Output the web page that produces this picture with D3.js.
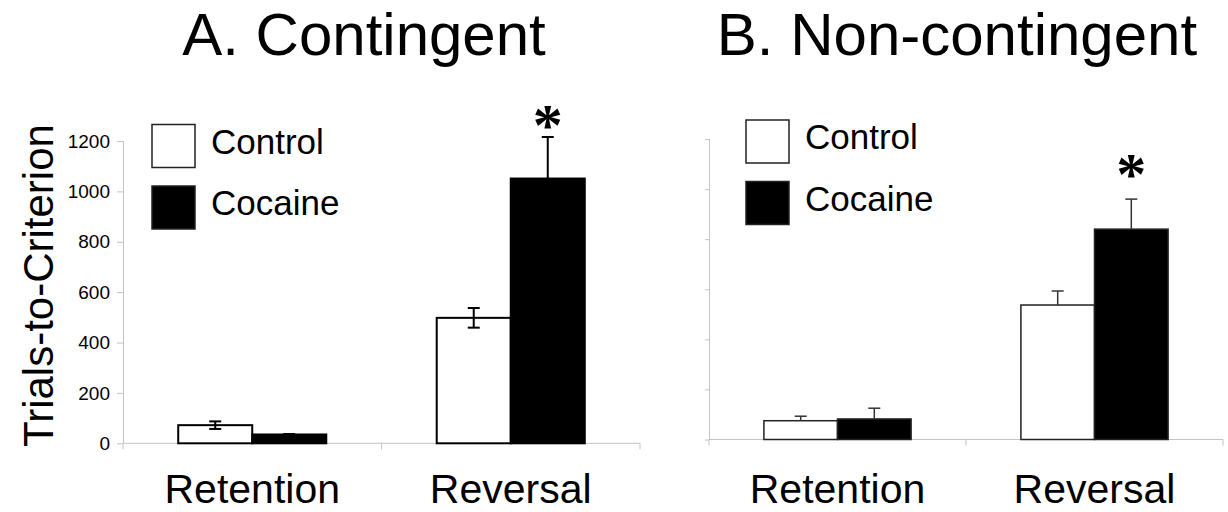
<!DOCTYPE html>
<html>
<head>
<meta charset="utf-8">
<script src="https://cdn.jsdelivr.net/npm/d3@7"></script>
<style>
  body { margin: 0; background: #fff; }
  svg { display: block; font-family: "Liberation Sans", Arial, sans-serif; }
</style>
</head>
<body>
<svg id="chart" width="1228" height="512"></svg>
<script>
// data
const categories = ['Retention', 'Reversal'];
const groups = ['Control', 'Cocaine'];
const yTicks = [0, 200, 400, 600, 800, 1000, 1200];

const contingentControl = [72, 498];
const contingentControlErr = [15, 39];
const contingentCocaine = [35, 1051];
const contingentCocaineErr = [2, 165];

const noncontControl = [75, 537];
const noncontControlErr = [18, 56];
const noncontCocaine = [82, 840];
const noncontCocaineErr = [43, 120];

const panels = [
  {
    title: 'A. Contingent', titleX: 364,
    left: 123, right: 640, top: 141, bottom: 443.3,
    values: [contingentControl, contingentCocaine],
    errs: [contingentControlErr, contingentCocaineErr],
    sig: [false, true], starGap: 8,
    labels: true, tickLen: 6, twoSided: true,
    barStroke: '#000', barStrokeW: 2, errColor: '#000', errW: 2,
    legendX: 152, legendY: 124.5, legendGap: 61.5
  },
  {
    title: 'B. Non-contingent', titleX: 957,
    left: 709, right: 1223, top: 139, bottom: 439.5,
    values: [noncontControl, noncontCocaine],
    errs: [noncontControlErr, noncontCocaineErr],
    sig: [false, true], starGap: 21,
    labels: false, tickLen: 4, twoSided: false,
    barStroke: '#222', barStrokeW: 1.5, errColor: '#333', errW: 1.5,
    legendX: 746, legendY: 120, legendGap: 61.5
  }
];

const fills = ['#fff', '#000'];
const axisColor = '#c4c4c4';
const svg = d3.select('#chart');

panels.forEach(p => {
  const y = d3.scaleLinear().domain([0, 1200]).range([p.bottom, p.top]);
  const x0 = d3.scaleBand().domain(categories).range([p.left, p.right]);
  const x1 = d3.scaleBand().domain(groups).range([0, x0.bandwidth()]).paddingOuter(0.746);

  const g = svg.append('g');

  // title
  g.append('text')
    .attr('x', p.titleX).attr('y', 55)
    .attr('text-anchor', 'middle')
    .style('font-size', '60px')
    .text(p.title);

  // y axis
  const yAxis = d3.axisLeft(y).tickValues(yTicks).tickSize(p.tickLen).tickPadding(7)
    .tickFormat(p.labels ? d3.format('d') : '');
  const ya = g.append('g').attr('transform', `translate(${p.left},0)`).call(yAxis);
  ya.select('.domain').attr('stroke', axisColor).attr('d', `M0.5,${p.top}V${p.bottom}`);
  ya.selectAll('.tick line').attr('stroke', axisColor);
  ya.selectAll('.tick text').style('font-size', '19px').attr('fill', '#000');

  // x axis: baseline with ticks at category boundaries
  const bounds = [p.left].concat(categories.map(c => x0(c) + x0.bandwidth()));
  g.append('line')
    .attr('x1', p.left).attr('x2', p.right)
    .attr('y1', p.bottom).attr('y2', p.bottom)
    .attr('stroke', axisColor);
  g.selectAll('.xtick').data(bounds).enter().append('line')
    .attr('x1', d => d).attr('x2', d => d)
    .attr('y1', p.bottom).attr('y2', p.bottom + 6)
    .attr('stroke', axisColor);
  g.selectAll('.xlab').data(categories).enter().append('text')
    .attr('x', d => x0(d) + x0.bandwidth() / 2)
    .attr('y', 503)
    .attr('text-anchor', 'middle')
    .style('font-size', '41px')
    .text(d => d);

  // bars
  const rows = [];
  groups.forEach((grp, gi) => {
    categories.forEach((cat, ci) => {
      rows.push({ grp, gi, cat, v: p.values[gi][ci], e: p.errs[gi][ci], sig: p.sig[ci] && gi === 1 });
    });
  });

  g.selectAll('.bar').data(rows).enter().append('rect')
    .attr('x', d => x0(d.cat) + x1(d.grp))
    .attr('y', d => y(d.v))
    .attr('width', x1.bandwidth())
    .attr('height', d => y(0) - y(d.v))
    .attr('fill', d => fills[d.gi])
    .attr('stroke', p.barStroke)
    .attr('stroke-width', p.barStrokeW);

  // error bars
  rows.forEach(d => {
    const cx = x0(d.cat) + x1(d.grp) + x1.bandwidth() / 2;
    const lo = p.twoSided ? y(d.v - d.e) : y(d.v);
    const hi = y(d.v + d.e);
    const col = d.gi === 1 && p.twoSided ? '#000' : p.errColor;
    g.append('line').attr('x1', cx).attr('x2', cx).attr('y1', lo).attr('y2', hi)
      .attr('stroke', col).attr('stroke-width', p.errW);
    g.append('line').attr('x1', cx - 6).attr('x2', cx + 6).attr('y1', hi).attr('y2', hi)
      .attr('stroke', col).attr('stroke-width', p.errW);
    if (p.twoSided && d.gi === 0) {
      g.append('line').attr('x1', cx - 6).attr('x2', cx + 6).attr('y1', lo).attr('y2', lo)
        .attr('stroke', col).attr('stroke-width', p.errW);
    }
    if (d.sig) {
      g.append('text')
        .attr('x', cx)
        .attr('y', hi - p.starGap + 15.6)
        .attr('text-anchor', 'middle')
        .style('font-family', '"Liberation Serif", serif')
        .style('font-weight', 'bold')
        .style('font-size', '60px')
        .text('*');
    }
  });

  // legend
  groups.forEach((grp, gi) => {
    const ly = p.legendY + gi * p.legendGap;
    g.append('rect')
      .attr('x', p.legendX).attr('y', ly)
      .attr('width', 43).attr('height', 43)
      .attr('fill', fills[gi])
      .attr('stroke', '#222').attr('stroke-width', 1.5);
    g.append('text')
      .attr('x', p.legendX + 59).attr('y', ly + 29)
      .style('font-size', '35px')
      .text(grp);
  });
});

// shared y label
svg.append('text')
  .attr('transform', 'translate(53,285.5) rotate(-90)')
  .attr('text-anchor', 'middle')
  .style('font-size', '42px')
  .text('Trials-to-Criterion');
</script>
</body>
</html>
